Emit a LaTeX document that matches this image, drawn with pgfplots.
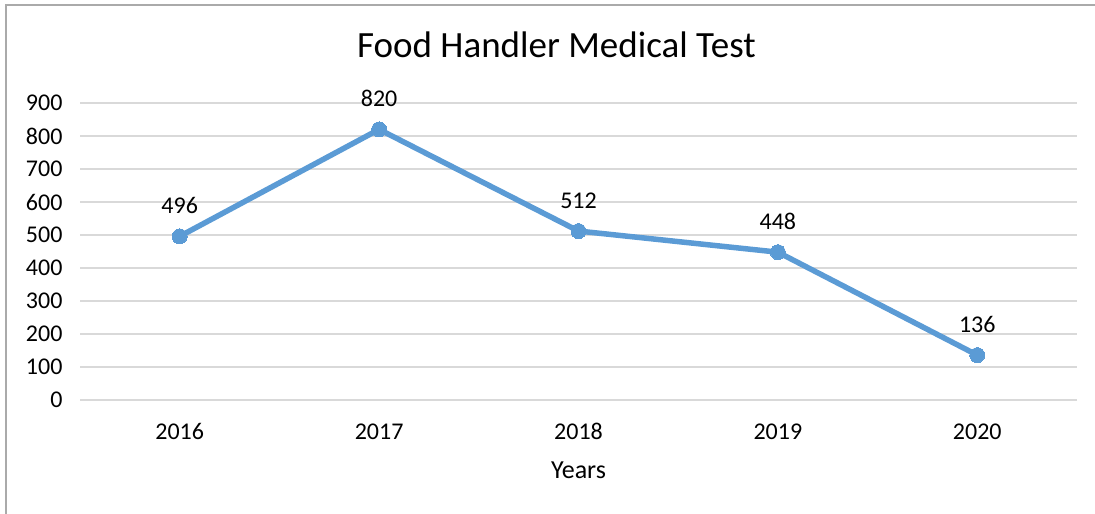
\documentclass[border=0pt]{standalone}
\usepackage{pgfplots}
\pgfplotsset{compat=1.18}
\usepackage{fontspec}
\setmainfont{Carlito}
\definecolor{lineblue}{RGB}{91,155,213}
\definecolor{gridgray}{RGB}{217,217,217}
\definecolor{framegray}{RGB}{170,170,170}

\begin{document}
\begin{tikzpicture}[x=1pt,y=1pt]
\useasboundingbox (0,0) rectangle (1095,-514);
\draw[framegray,line width=1.5pt] (6,-514) -- (6,-5) -- (1095,-5);
\begin{axis}[at={(80pt,-400pt)},anchor=south west,
  scale only axis,width=997pt,height=297pt,
  xmin=-0.5,xmax=4.5,ymin=0,ymax=900,
  xtick={0,1,2,3,4},xticklabels={2016,2017,2018,2019,2020},
  ytick={0,100,...,900},
  axis line style={draw=none},
  ymajorgrids,grid style={gridgray,line width=1.5pt},
  major tick length=0pt,
  /pgf/number format/assume math mode=true,
  tick label style={font=\fontsize{24}{26}\selectfont,black},
  yticklabel style={xshift=-14pt},
  xticklabel style={yshift=-20pt},
  title={Food Handler Medical Test},
  title style={font=\fontsize{37}{40}\selectfont,at={(0.478,1)},anchor=center,yshift=52pt},
  xlabel={Years},
  xlabel style={font=\fontsize{26}{28}\selectfont,at={(0.5,0)},anchor=center,yshift=-70pt},
  clip=false]
\draw[gridgray,line width=1.5pt] (rel axis cs:0,0) -- (rel axis cs:1,0);
\addplot[lineblue,line width=5.5pt,mark=*,mark size=7.5pt,
  mark options={fill=lineblue,draw=lineblue,line width=0pt},
  nodes near coords,
  every node near coord/.style={font=\fontsize{24}{26}\selectfont,black,yshift=19pt}]
  coordinates {(0,496) (1,820) (2,512) (3,448) (4,136)};
\end{axis}
\end{tikzpicture}
\end{document}
